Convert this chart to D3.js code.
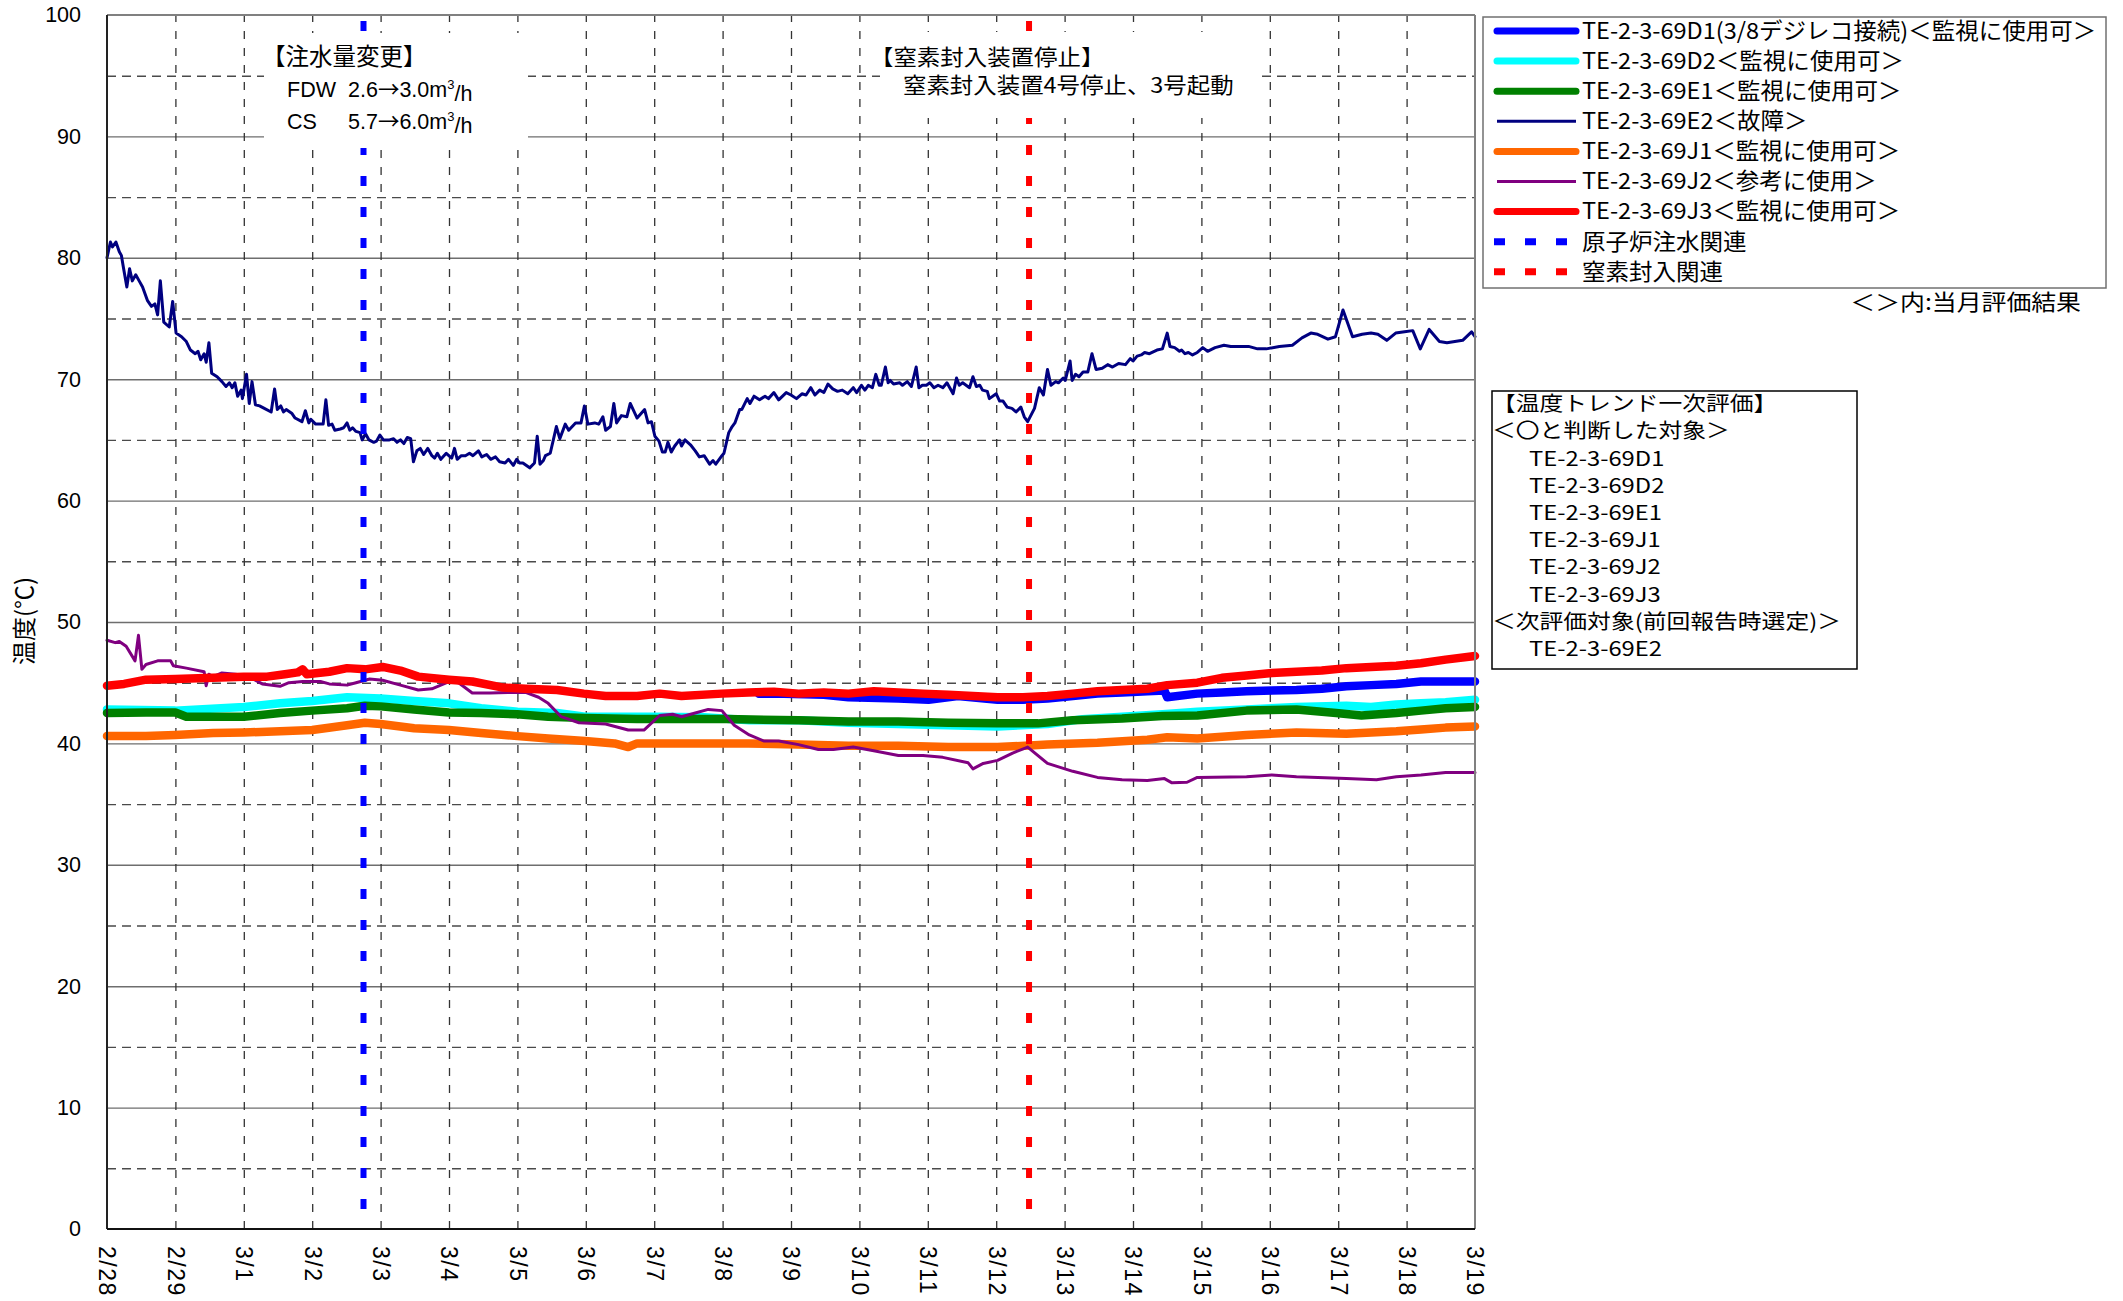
<!DOCTYPE html>
<html>
<head>
<meta charset="utf-8">
<script src="https://cdn.jsdelivr.net/npm/d3@7"></script>
<style>
  body { margin: 0; background: #fff; }
  text { font-family: "Noto Sans CJK JP", sans-serif; fill: #000; }
  .num text, text.num { font-family: "Liberation Sans", Arial, sans-serif; }
  .cjk { font-family: "Noto Sans CJK JP", sans-serif; }
</style>
</head>
<body>
<svg id="chart"></svg>
<script>

// days counted from 2/28 (2012, leap year)
var dateLabels = ["2/28","2/29","3/1","3/2","3/3","3/4","3/5","3/6","3/7","3/8","3/9",
                  "3/10","3/11","3/12","3/13","3/14","3/15","3/16","3/17","3/18","3/19"];

// [day, temp]
var d1Data = [[9.53,44.1],[9.75,44.1],[10.48,44.0],[10.84,43.8],[11.57,43.7],[12.01,43.6],[12.44,43.9],
  [13.02,43.6],[13.39,43.6],[13.75,43.7],[14.12,43.9],[14.48,44.1],[14.84,44.2],[15.21,44.3],[15.46,44.35],
  [15.5,43.8],[15.94,44.1],[16.3,44.2],[16.66,44.3],[17.03,44.35],[17.39,44.4],[17.76,44.5],[18.12,44.7],
  [18.48,44.8],[18.85,44.9],[19.21,45.1],[19.57,45.1],[20,45.1]];

var d2Data = [[0,42.8],[1,42.7],[2,43.0],[2.53,43.3],[3,43.5],[3.51,43.8],[4,43.7],[4.49,43.5],[5,43.3],
  [5.47,42.9],[6,42.6],[6.58,42.5],[6.99,42.2],[7.42,42.2],[7.99,42.2],[8.73,42.15],[9.39,41.9],[10.11,41.9],
  [10.84,41.7],[11.57,41.6],[12.3,41.5],[13.02,41.4],[13.75,41.6],[14.26,42.0],[14.84,42.2],[15.43,42.4],
  [15.94,42.6],[16.66,42.8],[17.39,43.0],[18.12,43.1],[18.48,43.0],[18.85,43.2],[19.21,43.3],[19.57,43.4],[20,43.6]];

var e1Data = [[0,42.5],[0.57,42.55],[1,42.55],[1.16,42.2],[1.55,42.2],[2,42.2],[2.53,42.5],[3,42.7],
  [3.51,42.9],[3.77,43.1],[4,43.05],[4.49,42.8],[5,42.55],[5.47,42.5],[6,42.4],[6.45,42.2],[6.99,42.1],
  [7.75,42.0],[8.4,42.0],[9.05,42.0],[10.11,41.9],[10.84,41.8],[11.57,41.8],[12.3,41.7],[13.02,41.65],
  [13.61,41.65],[14.12,41.9],[14.84,42.05],[15.43,42.25],[15.94,42.3],[16.66,42.7],[17.39,42.8],[17.97,42.5],
  [18.34,42.3],[18.85,42.5],[19.21,42.7],[19.57,42.9],[20,43.0]];

var e2Data = [[0,80.0],[0.05,81.3],[0.08,80.9],[0.13,81.3],[0.18,80.5],[0.21,80.2],[0.24,79.2],[0.29,77.6],
  [0.33,79.1],[0.37,78.1],[0.42,78.6],[0.47,78.1],[0.52,77.6],[0.59,76.5],[0.65,76.0],[0.7,76.2],[0.74,75.3],
  [0.78,78.1],[0.83,74.7],[0.91,74.3],[0.96,76.4],[1.01,73.8],[1.09,73.5],[1.16,73.1],[1.22,72.4],[1.29,72.1],
  [1.33,72.3],[1.37,71.6],[1.42,72.1],[1.45,71.4],[1.49,73.0],[1.53,70.5],[1.61,70.2],[1.68,69.8],[1.74,69.4],
  [1.79,69.7],[1.83,69.3],[1.87,69.7],[1.91,68.6],[1.96,69.1],[1.98,68.4],[2.04,70.4],[2.08,68.0],[2.12,69.8],
  [2.17,67.9],[2.23,67.8],[2.3,67.6],[2.4,67.3],[2.45,69.2],[2.49,67.5],[2.54,67.8],[2.58,67.3],[2.62,67.5],
  [2.7,67.2],[2.75,66.8],[2.85,66.5],[2.9,67.4],[2.95,66.4],[2.98,66.7],[3.05,66.3],[3.16,66.3],[3.2,68.3],
  [3.24,66.2],[3.29,66.3],[3.33,65.8],[3.41,65.9],[3.46,66.0],[3.51,66.4],[3.55,65.8],[3.59,66.0],[3.64,65.7],
  [3.7,65.6],[3.73,65.0],[3.78,65.5],[3.83,65.0],[3.9,64.8],[3.94,64.9],[3.99,65.4],[4.04,65.0],[4.13,65.0],
  [4.19,65.1],[4.24,64.8],[4.29,65.0],[4.34,64.7],[4.39,65.2],[4.44,65.1],[4.48,63.2],[4.53,64.1],[4.58,64.3],
  [4.63,63.8],[4.69,64.3],[4.75,63.7],[4.79,63.5],[4.83,63.9],[4.88,63.4],[4.96,63.9],[5.04,63.5],[5.08,64.3],
  [5.12,63.4],[5.18,63.7],[5.24,63.7],[5.3,63.9],[5.35,63.7],[5.43,64.1],[5.48,63.6],[5.55,63.8],[5.61,63.4],
  [5.68,63.6],[5.74,63.2],[5.82,63.1],[5.87,63.4],[5.94,62.9],[5.99,63.4],[6.03,63.1],[6.08,63.1],[6.18,62.7],
  [6.25,63.1],[6.29,65.3],[6.33,63.0],[6.38,63.3],[6.41,63.7],[6.48,63.9],[6.57,66.1],[6.62,65.1],[6.7,66.3],
  [6.75,65.8],[6.85,66.4],[6.93,66.4],[6.98,67.8],[7.03,66.3],[7.13,66.4],[7.19,66.3],[7.25,66.9],[7.29,65.8],
  [7.36,66.1],[7.41,68.0],[7.45,66.4],[7.52,67.0],[7.6,66.9],[7.65,68.0],[7.75,66.8],[7.86,67.5],[7.91,66.4],
  [7.96,66.5],[8.01,65.3],[8.04,65.1],[8.07,64.9],[8.12,64.0],[8.16,64.0],[8.2,64.8],[8.25,64.0],[8.3,64.5],
  [8.37,65.0],[8.4,64.5],[8.45,65.0],[8.53,64.6],[8.6,64.1],[8.66,63.6],[8.73,63.7],[8.81,63.0],[8.86,63.3],
  [8.9,63.0],[8.99,63.7],[9.02,63.9],[9.09,65.6],[9.14,66.1],[9.18,66.4],[9.25,67.5],[9.28,67.5],[9.36,68.4],
  [9.4,68.0],[9.46,68.6],[9.54,68.3],[9.62,68.6],[9.67,68.4],[9.75,68.9],[9.82,68.3],[9.93,68.9],[10.0,68.7],
  [10.08,68.4],[10.16,68.8],[10.22,68.7],[10.29,69.3],[10.35,68.7],[10.42,69.1],[10.48,68.9],[10.54,69.6],
  [10.61,69.2],[10.68,69.0],[10.75,69.1],[10.83,68.8],[10.91,69.3],[10.96,68.9],[11.03,69.5],[11.08,69.1],
  [11.13,69.5],[11.19,69.3],[11.24,70.4],[11.29,69.5],[11.32,69.5],[11.38,71.0],[11.42,69.7],[11.45,69.9],
  [11.5,69.6],[11.59,69.7],[11.63,69.5],[11.7,69.8],[11.76,69.4],[11.83,71.0],[11.87,69.3],[11.92,69.5],
  [11.98,69.5],[12.03,69.7],[12.09,69.3],[12.15,69.5],[12.22,69.3],[12.28,69.7],[12.37,68.8],[12.42,70.1],
  [12.46,69.5],[12.51,69.7],[12.56,69.5],[12.61,69.3],[12.66,70.2],[12.71,69.4],[12.76,69.5],[12.8,69.1],
  [12.87,69.0],[12.9,68.4],[13.0,68.8],[13.05,68.2],[13.1,68.2],[13.16,67.7],[13.23,67.6],[13.29,67.3],
  [13.36,67.7],[13.41,66.9],[13.46,66.5],[13.56,67.6],[13.63,69.3],[13.69,68.7],[13.75,70.8],[13.8,69.5],
  [13.87,69.8],[13.91,69.7],[13.98,70.1],[14.01,69.9],[14.08,71.5],[14.11,69.9],[14.16,70.4],[14.21,70.2],
  [14.27,70.6],[14.34,70.6],[14.4,72.1],[14.46,70.8],[14.55,70.9],[14.63,71.2],[14.7,71.0],[14.79,71.3],
  [14.89,71.2],[14.96,71.7],[15.0,71.5],[15.06,71.9],[15.12,72.0],[15.17,72.2],[15.24,72.1],[15.35,72.4],
  [15.43,72.5],[15.5,73.8],[15.54,72.7],[15.61,72.6],[15.68,72.3],[15.71,72.4],[15.76,72.1],[15.81,72.2],
  [15.87,72.0],[15.94,72.2],[16.02,72.6],[16.09,72.3],[16.2,72.6],[16.33,72.8],[16.43,72.7],[16.69,72.7],
  [16.82,72.5],[16.95,72.5],[17.14,72.7],[17.33,72.8],[17.47,73.4],[17.6,73.8],[17.7,73.7],[17.85,73.3],
  [17.96,73.5],[18.07,75.7],[18.21,73.5],[18.35,73.7],[18.48,73.8],[18.58,73.7],[18.71,73.2],[18.84,73.8],
  [18.97,73.9],[19.09,74.0],[19.2,72.5],[19.33,74.1],[19.48,73.1],[19.59,73.0],[19.82,73.2],[19.95,73.9],[20,73.5]];

var j1Data = [[0,40.6],[0.57,40.6],[1,40.7],[1.55,40.85],[2,40.9],[2.53,41.0],[3,41.1],[3.51,41.5],
  [3.77,41.7],[4,41.6],[4.49,41.25],[5,41.1],[5.47,40.85],[6,40.6],[6.45,40.4],[6.99,40.2],[7.42,40.0],
  [7.62,39.7],[7.75,40.0],[7.99,40.0],[8.73,40.0],[9.38,40.0],[10.11,39.9],[10.84,39.8],[11.57,39.8],
  [12.3,39.7],[13.02,39.7],[13.75,39.9],[14.48,40.05],[15.21,40.3],[15.5,40.5],[15.94,40.4],[16.66,40.7],
  [17.39,40.9],[18.12,40.8],[18.85,41.0],[19.21,41.15],[19.57,41.3],[20,41.4]];

var j2Data = [[0,48.5],[0.12,48.3],[0.18,48.4],[0.28,48.0],[0.41,46.8],[0.46,48.9],[0.51,46.1],[0.57,46.5],
  [0.74,46.8],[0.93,46.8],[0.97,46.4],[1.16,46.2],[1.42,45.9],[1.45,44.75],[1.49,45.7],[1.55,45.5],[1.68,45.8],
  [1.88,45.7],[2.07,45.5],[2.27,44.9],[2.53,44.7],[2.66,45.0],[2.86,45.1],[3.12,45.1],[3.25,44.9],[3.51,44.8],
  [3.64,45.0],[3.84,45.3],[4.03,45.2],[4.29,44.8],[4.55,44.4],[4.75,44.5],[4.88,44.8],[5.01,45.1],[5.14,45.0],
  [5.34,44.15],[5.6,44.15],[5.86,44.2],[6.12,44.2],[6.31,43.8],[6.45,43.3],[6.64,42.2],[6.9,41.7],[7.29,41.6],
  [7.62,41.1],[7.85,41.1],[8.08,42.3],[8.27,42.4],[8.4,42.2],[8.6,42.5],[8.79,42.8],[8.99,42.7],[9.17,41.5],
  [9.39,40.7],[9.6,40.2],[9.82,40.2],[10.11,39.9],[10.4,39.5],[10.62,39.5],[10.91,39.7],[11.21,39.4],
  [11.57,39.0],[11.93,39.0],[12.22,38.85],[12.59,38.4],[12.66,37.9],[12.81,38.35],[13.02,38.6],[13.24,39.2],
  [13.46,39.7],[13.75,38.35],[14.12,37.7],[14.48,37.2],[14.84,37.0],[15.21,36.95],[15.46,37.1],[15.57,36.75],
  [15.79,36.8],[15.94,37.2],[16.66,37.25],[17.03,37.4],[17.39,37.25],[18.12,37.1],[18.56,37.0],[18.85,37.25],
  [19.21,37.4],[19.57,37.6],[20,37.6]];

var j3Data = [[0,44.75],[0.25,44.9],[0.57,45.25],[1,45.3],[1.55,45.4],[2,45.5],[2.34,45.5],[2.6,45.7],
  [2.79,45.85],[2.86,46.1],[2.92,45.7],[3.25,45.9],[3.51,46.2],[3.77,46.1],[4.03,46.3],[4.29,46.0],[4.55,45.5],
  [5,45.25],[5.34,45.1],[5.79,44.6],[6.12,44.5],[6.58,44.4],[6.97,44.1],[7.29,43.9],[7.75,43.9],[8.08,44.1],
  [8.4,43.9],[8.99,44.1],[9.38,44.2],[9.75,44.26],[10.11,44.1],[10.48,44.2],[10.84,44.1],[11.21,44.3],
  [11.57,44.2],[11.93,44.1],[12.3,44.0],[12.66,43.9],[13.02,43.8],[13.39,43.8],[13.75,43.9],[14.12,44.1],
  [14.48,44.3],[14.84,44.4],[15.21,44.5],[15.5,44.8],[15.94,45.0],[16.3,45.4],[16.66,45.6],[17.03,45.8],
  [17.39,45.9],[17.76,46.0],[18.12,46.2],[18.48,46.3],[18.85,46.4],[19.21,46.6],[19.57,46.9],[20,47.2]];

var seriesNames = ["TE-2-3-69D1(3/8デジレコ接続)＜監視に使用可＞", "TE-2-3-69D2＜監視に使用可＞",
  "TE-2-3-69E1＜監視に使用可＞", "TE-2-3-69E2＜故障＞", "TE-2-3-69J1＜監視に使用可＞",
  "TE-2-3-69J2＜参考に使用＞", "TE-2-3-69J3＜監視に使用可＞"];
var seriesColors = ["#0000ff", "#00ffff", "#008000", "#000080", "#ff6600", "#800080", "#ff0000"];
var seriesThick = [true, true, true, false, true, false, true];
var seriesData = [d1Data, d2Data, e1Data, e2Data, j1Data, j2Data, j3Data];

// vertical event markers (day from 2/28)
var eventDays = [3.75, 13.48];
var eventNames = ["原子炉注水関連", "窒素封入関連"];
var eventColors = ["#0000ff", "#ff0000"];

var evalLines = ["【温度トレンド一次評価】", "＜〇と判断した対象＞", "TE-2-3-69D1", "TE-2-3-69D2",
  "TE-2-3-69E1", "TE-2-3-69J1", "TE-2-3-69J2", "TE-2-3-69J3", "＜次評価対象(前回報告時選定)＞", "TE-2-3-69E2"];
var evalIndent = [false, false, true, true, true, true, true, true, false, true];

///////////////////////
// Chart Size Setup
var out_width = 2123, out_height = 1301;
var plot = { left: 107, right: 1475, top: 15, bottom: 1229 };
var width = plot.right - plot.left;
var height = plot.bottom - plot.top;

var svg = d3.select("#chart")
    .attr("width", out_width)
    .attr("height", out_height);

svg.append("rect").attr("width", out_width).attr("height", out_height).attr("fill", "#fff");

// widen a text a bit, the original font runs wider than Noto
function stretch(sel, k) {
  sel.each(function() {
    var len = this.getComputedTextLength();
    d3.select(this).attr("textLength", len * k).attr("lengthAdjust", "spacingAndGlyphs");
  });
}

///////////////////////
// Scales
var x = d3.scaleLinear().domain([0, 20]).range([plot.left, plot.right]);
var y = d3.scaleLinear().domain([0, 100]).range([plot.bottom, plot.top]);

///////////////////////
// Grid
var yGrid = svg.append("g")
    .attr("transform", "translate(" + plot.left + ",0)")
    .call(d3.axisLeft(y).tickValues(d3.range(5, 100, 5)).tickSize(-width).tickFormat(""));
yGrid.select(".domain").remove();
yGrid.selectAll(".tick line")
    .attr("stroke", function(d) { return d % 10 == 0 ? "#6e6e6e" : "#4a4a4a"; })
    .attr("stroke-width", 1.4)
    .attr("stroke-dasharray", function(d) { return d % 10 == 0 ? null : "9,6"; });

var xGrid = svg.append("g")
    .attr("transform", "translate(0," + plot.bottom + ")")
    .call(d3.axisBottom(x).tickValues(d3.range(1, 20)).tickSize(-height).tickFormat(""));
xGrid.select(".domain").remove();
xGrid.selectAll(".tick line")
    .attr("stroke", "#333")
    .attr("stroke-width", 1.3)
    .attr("stroke-dasharray", "8,9");

///////////////////////
// Axis labels
var yAxis = svg.append("g")
    .attr("class", "num")
    .attr("transform", "translate(" + plot.left + ",0)")
    .call(d3.axisLeft(y).tickValues(d3.range(0, 101, 10)).tickSize(0).tickPadding(26));
yAxis.select(".domain").remove();
yAxis.selectAll("text").style("font-size", "21.5px").attr("fill", "#000");

var xAxis = svg.append("g")
    .attr("class", "num")
    .attr("transform", "translate(0," + plot.bottom + ")")
    .call(d3.axisBottom(x).tickValues(d3.range(0, 21)).tickSize(0).tickFormat(function(i) { return dateLabels[i]; }));
xAxis.select(".domain").remove();
xAxis.selectAll("text")
    .style("font-size", "23px")
    .style("letter-spacing", "1.5px")
    .style("text-anchor", "start")
    .attr("fill", "#000")
    .attr("transform", "rotate(90)")
    .attr("y", 0)
    .attr("x", 17)
    .attr("dy", "0.35em");

svg.append("text")
    .text("温度(℃)")
    .attr("text-anchor", "middle")
    .style("font-size", "24px")
    .attr("transform", "translate(25,621) rotate(-90)")
    .attr("dy", "0.35em");

///////////////////////
// Lines
var line = d3.line()
    .x(function(d) { return x(d[0]); })
    .y(function(d) { return y(d[1]); });

seriesData.forEach(function(data, i) {
  svg.append("path")
      .datum(data)
      .attr("fill", "none")
      .attr("stroke", seriesColors[i])
      .attr("stroke-width", seriesThick[i] ? 8.5 : 3)
      .attr("stroke-linejoin", "round")
      .attr("stroke-linecap", "round")
      .attr("d", line);
});

// event markers
eventDays.forEach(function(d, i) {
  svg.append("line")
      .attr("x1", x(d)).attr("x2", x(d))
      .attr("y1", plot.top).attr("y2", plot.bottom)
      .attr("stroke", eventColors[i])
      .attr("stroke-width", 6)
      .attr("stroke-dasharray", "10,21")
      .attr("stroke-dashoffset", -6);
});

// plot frame
svg.append("line").attr("x1", plot.left).attr("x2", plot.right).attr("y1", plot.top).attr("y2", plot.top)
    .attr("stroke", "#808080").attr("stroke-width", 2);
svg.append("line").attr("x1", plot.right).attr("x2", plot.right).attr("y1", plot.top).attr("y2", plot.bottom)
    .attr("stroke", "#808080").attr("stroke-width", 2);
svg.append("line").attr("x1", plot.left).attr("x2", plot.left).attr("y1", plot.top).attr("y2", plot.bottom)
    .attr("stroke", "#222").attr("stroke-width", 2);
svg.append("line").attr("x1", plot.left).attr("x2", plot.right).attr("y1", plot.bottom).attr("y2", plot.bottom)
    .attr("stroke", "#111").attr("stroke-width", 2.2);

///////////////////////
// Annotations
svg.append("rect").attr("x", 264).attr("y", 33).attr("width", 264).attr("height", 115).attr("fill", "#fff");
svg.append("rect").attr("x", 880).attr("y", 32).attr("width", 380).attr("height", 86).attr("fill", "#fff");

svg.append("text").text("【注水量変更】")
    .attr("x", 262).attr("y", 57).attr("dy", "0.35em").style("font-size", "23.5px");

var fdw = svg.append("text").attr("class", "num").attr("y", 89).attr("dy", "0.35em").style("font-size", "21.5px");
fdw.append("tspan").attr("x", 287).text("FDW");
fdw.append("tspan").attr("x", 348).text("2.6");
fdw.append("tspan").attr("class", "cjk").text("→");
fdw.append("tspan").text("3.0m");
fdw.append("tspan").attr("dy", "-0.55em").style("font-size", "13px").text("3");
fdw.append("tspan").attr("dy", "0.55em").text("/h");

var cs = svg.append("text").attr("class", "num").attr("y", 121).attr("dy", "0.35em").style("font-size", "21.5px");
cs.append("tspan").attr("x", 287).text("CS");
cs.append("tspan").attr("x", 348).text("5.7");
cs.append("tspan").attr("class", "cjk").text("→");
cs.append("tspan").text("6.0m");
cs.append("tspan").attr("dy", "-0.55em").style("font-size", "13px").text("3");
cs.append("tspan").attr("dy", "0.55em").text("/h");

svg.append("text").text("【窒素封入装置停止】")
    .attr("x", 870).attr("y", 57).attr("dy", "0.35em").style("font-size", "21.5px")
    .call(stretch, 1.09);
svg.append("text").text("窒素封入装置4号停止、3号起動")
    .attr("x", 903).attr("y", 85).attr("dy", "0.35em").style("font-size", "21.5px")
    .call(stretch, 1.09);

///////////////////////
// Legend
var legend = svg.append("g");
legend.append("rect")
    .attr("x", 1483).attr("y", 17).attr("width", 623).attr("height", 271)
    .attr("fill", "#fff").attr("stroke", "#707070").attr("stroke-width", 1.5);

var rowY = function(i) { return 31 + i * 30.1; };

seriesNames.forEach(function(name, i) {
  legend.append("line")
      .attr("x1", 1497).attr("x2", 1576)
      .attr("y1", rowY(i)).attr("y2", rowY(i))
      .attr("stroke", seriesColors[i])
      .attr("stroke-width", seriesThick[i] ? 7 : 3)
      .attr("stroke-linecap", seriesThick[i] ? "round" : "butt");
  legend.append("text").text(name)
      .attr("x", 1582).attr("y", rowY(i)).attr("dy", "0.35em")
      .style("font-size", "22.5px")
      .call(stretch, 1.045);
});

eventNames.forEach(function(name, i) {
  var yy = rowY(7 + i);
  legend.append("line")
      .attr("x1", 1494).attr("x2", 1578)
      .attr("y1", yy).attr("y2", yy)
      .attr("stroke", eventColors[i])
      .attr("stroke-width", 7)
      .attr("stroke-dasharray", "11,20");
  legend.append("text").text(name)
      .attr("x", 1582).attr("y", yy).attr("dy", "0.35em")
      .style("font-size", "22.5px")
      .call(stretch, 1.045);
});

svg.append("text").text("＜＞内:当月評価結果")
    .attr("x", 2081).attr("y", 302).attr("dy", "0.35em")
    .attr("text-anchor", "end")
    .style("font-size", "22px")
    .call(stretch, 1.13);

///////////////////////
// Evaluation box
svg.append("rect")
    .attr("x", 1492).attr("y", 391).attr("width", 365).attr("height", 278)
    .attr("fill", "#fff").attr("stroke", "#000").attr("stroke-width", 1.5);

evalLines.forEach(function(t, i) {
  svg.append("text").text(t)
      .attr("x", evalIndent[i] ? 1529 : 1492)
      .attr("y", 404 + i * 27.2).attr("dy", "0.35em")
      .style("font-size", "20.5px")
      .call(stretch, 1.16);
});

</script>
</body>
</html>
